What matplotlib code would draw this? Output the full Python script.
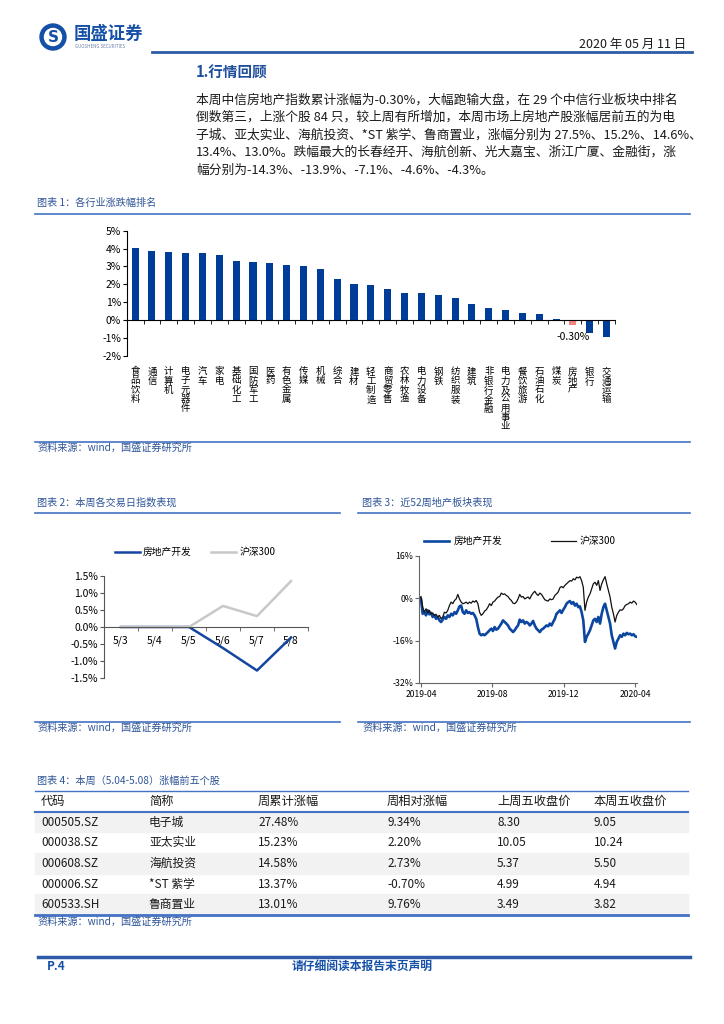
import numpy as np
import matplotlib
matplotlib.use("Agg")
import matplotlib.pyplot as plt
from matplotlib.lines import Line2D
from matplotlib.patches import Circle, Rectangle

plt.rcParams['font.family'] = ['Noto Sans CJK SC', 'DejaVu Sans']
plt.rcParams['axes.unicode_minus'] = False

W, H = 724, 1024
BLUE = "#003D99"
PINK = "#F4827F"
TITLE_BLUE = "#2F5597"
RULE = "#4472C4"
TEXT = "#1a1a1a"

# ---- chart 1: industry weekly change (%) ----
industries = ["食品饮料", "通信", "计算机", "电子元器件", "汽车", "家电", "基础化工", "国防军工",
              "医药", "有色金属", "传媒", "机械", "综合", "建材", "轻工制造", "商贸零售",
              "农林牧渔", "电力设备", "钢铁", "纺织服装", "建筑", "非银行金融", "电力及公用事业",
              "餐饮旅游", "石油石化", "煤炭", "房地产", "银行", "交通运输"]
industry_chg = [4.01, 3.86, 3.79, 3.73, 3.73, 3.62, 3.32, 3.26, 3.17, 3.06, 3.00, 2.85,
                2.29, 2.03, 1.98, 1.72, 1.53, 1.53, 1.38, 1.21, 0.91, 0.65, 0.54, 0.39,
                0.35, 0.06, -0.30, -0.71, -0.97]

# ---- chart 2: daily index performance (%) ----
days = ["5/3", "5/4", "5/5", "5/6", "5/7", "5/8"]
re_day = [0.0, 0.0, 0.0, -0.62, -1.28, -0.31]
hs300_day = [0.0, 0.0, 0.0, 0.62, 0.32, 1.35]

# ---- chart 3: 52-week performance (%) ----
week_labels = ["2019-04", "2019-08", "2019-12", "2020-04"]
hs300_52w = [0.0, 0.6, -3.4, -5.3, -4.0, -5.6, -4.6, -5.9, -5.6, -6.5, -6.1, -7.1, -6.5, -7.8,
             -7.1, -5.3, -5.6, -4.6, -2.8, -1.5, -2.1, -0.9, -0.3, 1.4, -0.3, -1.5, -2.1, -1.9,
             -1.5, -2.1, -1.5, -1.9, -1.1, -1.5, -0.9, -2.1, -5.3, -6.5, -5.9, -4.9, -4.4, -3.4,
             -2.1, -2.8, -1.5, -1.1, -0.3, 0.4, 0.6, 1.9, 1.4, 1.6, 1.0, 0.6, -0.3, -0.9, -1.9,
             -2.1, -1.5, -0.3, 1.4, 0.4, 0.6, -0.3, 0.1, 0.4, -0.3, 1.0, 1.9, 2.6, 1.6, 1.0, 1.9,
             1.4, 0.4, -0.6, -0.9, -1.1, -0.3, -0.6, -0.3, 1.0, 1.6, 2.3, 3.9, 4.4, 3.9, 4.8, 5.4,
             6.0, 6.6, 6.4, 7.3, 6.9, 7.9, 7.6, 8.1, 6.6, 4.1, -4.6, -1.5, 0.4, 1.6, 3.5, 5.4, 6.0,
             4.8, 6.6, 2.9, 5.4, 6.9, 8.1, 5.4, 2.9, 0.4, -3.4, -5.9, -9.0, -6.5, -5.3, -4.4, -4.6,
             -4.0, -2.8, -2.4, -2.1, -1.5, -1.9, -1.1, -1.5, -2.4]
re_52w = [0.0, -0.3, -5.9, -5.3, -6.5, -4.6, -6.1, -5.6, -7.1, -6.5, -7.8, -7.1, -8.4, -9.0,
          -8.1, -7.1, -7.8, -6.5, -7.1, -5.9, -6.5, -5.3, -5.9, -4.6, -3.1, -2.8, -5.3, -5.9,
          -4.6, -5.6, -5.3, -5.9, -5.6, -6.5, -7.8, -10.9, -13.4, -14.0, -13.6, -14.0, -13.4,
          -12.8, -12.1, -11.5, -12.4, -10.9, -11.9, -11.5, -10.6, -9.6, -8.4, -9.0, -9.6, -10.3,
          -11.5, -12.1, -12.8, -12.1, -11.1, -10.3, -8.1, -9.0, -8.4, -9.6, -9.0, -9.4, -10.3,
          -9.6, -8.6, -10.3, -11.5, -12.1, -12.8, -11.9, -11.5, -10.9, -10.3, -10.6, -9.6, -10.3,
          -9.0, -7.8, -5.9, -5.3, -4.6, -5.6, -4.4, -3.4, -2.1, -1.5, -1.1, -2.1, -1.5, -2.8,
          -2.1, -3.4, -3.1, -5.3, -8.4, -16.5, -14.6, -13.4, -12.1, -10.3, -8.4, -7.8, -9.0,
          -7.1, -9.6, -5.9, -3.4, -2.1, -4.6, -7.1, -9.6, -14.0, -16.5, -19.0, -16.5, -15.3,
          -14.0, -14.6, -13.4, -14.0, -13.1, -13.6, -13.4, -14.0, -13.6, -14.4, -14.6]

# ---- table 4 ----
tbl_header = ["代码", "简称", "周累计涨幅", "周相对涨幅", "上周五收盘价", "本周五收盘价"]
codes = ["000505.SZ", "000038.SZ", "000608.SZ", "000006.SZ", "600533.SH"]
names = ["电子城", "亚太实业", "海航投资", "*ST 紫学", "鲁商置业"]
week_chg = ["27.48%", "15.23%", "14.58%", "13.37%", "13.01%"]
rel_chg = ["9.34%", "2.20%", "2.73%", "-0.70%", "9.76%"]
last_close = ["8.30", "10.05", "5.37", "4.99", "3.49"]
this_close = ["9.05", "10.24", "5.50", "4.94", "3.82"]

paragraph = [
    "本周中信房地产指数累计涨幅为-0.30%，大幅跑输大盘，在 29 个中信行业板块中排名",
    "倒数第三，上涨个股 84 只，较上周有所增加，本周市场上房地产股涨幅居前五的为电",
    "子城、亚太实业、海航投资、*ST 紫学、鲁商置业，涨幅分别为 27.5%、15.2%、14.6%、",
    "13.4%、13.0%。跌幅最大的长春经开、海航创新、光大嘉宝、浙江广厦、金融街，涨",
    "幅分别为-14.3%、-13.9%、-7.1%、-4.6%、-4.3%。",
]

fig = plt.figure(figsize=(W / 100, H / 100), dpi=100)


def fx(x):
    return x / W


def fy(y):
    return 1 - y / H


def text(x, y, s, **kw):
    kw.setdefault("va", "center")
    fig.text(fx(x), fy(y), s, **kw)


def rule(x0, x1, y, lw=1.0, color=RULE):
    fig.add_artist(Line2D([fx(x0), fx(x1)], [fy(y), fy(y)], color=color, lw=lw))


def axes_px(x0, y0, x1, y1):
    ax = fig.add_axes([fx(x0), fy(y1), (x1 - x0) / W, (y1 - y0) / H])
    ax.patch.set_alpha(0)
    return ax


# ---- page header ----
fig.add_artist(Circle((0.53, (H - 37) / 100), 0.13, transform=fig.dpi_scale_trans, color="#1550A8"))
fig.add_artist(Circle((0.53, (H - 37) / 100), 0.085, transform=fig.dpi_scale_trans, color="white"))
text(53, 37, "S", color="#1550A8", fontsize=11, fontweight="bold", ha="center", family="DejaVu Sans")
text(74, 34, "国盛证券", color="#1550A8", fontsize=12.5, fontweight="bold", ha="left")
text(75, 46.5, "GUOSHENG SECURITIES", color="#6a7fa8", fontsize=3.2, ha="left")
text(686, 44, "2020 年 05 月 11 日", color=TEXT, fontsize=9, ha="right")
rule(152, 692, 52, lw=2.0, color="#2E5BA8")

# ---- section text ----
text(196, 73, "1.行情回顾", color="#1F4E9A", fontsize=10.5, fontweight="bold", ha="left")
for i, line in enumerate(paragraph):
    text(196, 100 + i * 17.5, line, color=TEXT, fontsize=9.2, ha="left")

# ---- chart 1 ----
text(37, 203, "图表 1：各行业涨跌幅排名", color=TITLE_BLUE, fontsize=7.3, ha="left", style="italic")
rule(35, 690, 214, lw=1.2)
ax1 = axes_px(126.7, 230.7, 615, 355.7)
xi = np.arange(len(industries))
bar_colors = [PINK if n == "房地产" else BLUE for n in industries]
ax1.bar(xi, industry_chg, width=0.42, color=bar_colors)
ax1.set_xlim(-0.5, len(industries) - 0.5)
ax1.set_ylim(-2, 5)
ax1.set_yticks(np.arange(-2, 6))
ax1.yaxis.set_major_formatter(lambda v, p: f"{v:.0f}%")
ax1.spines[["top", "right"]].set_visible(False)
ax1.spines["bottom"].set_position(("data", 0))
ax1.set_xticks(xi)
ax1.set_xticklabels(["\n".join(n) for n in industries], fontsize=6.8, linespacing=1.02)
ax1.set_xticks(np.arange(-0.5, len(industries)), minor=True)
ax1.tick_params(axis="x", which="major", length=0, pad=34)
ax1.tick_params(axis="x", which="minor", length=3, direction="out")
ax1.tick_params(axis="y", length=3, labelsize=7.5, pad=1)
k = industries.index("房地产")
ax1.annotate(f"{industry_chg[k]:.2f}%", (k, industry_chg[k]), xytext=(0, -5),
             textcoords="offset points", ha="center", va="top", fontsize=7.5)
rule(35, 690, 442, lw=1.2)
text(37, 448, "资料来源：wind，国盛证券研究所", color=TITLE_BLUE, fontsize=7.3, ha="left", style="italic")

# ---- chart 2 ----
text(37, 503, "图表 2：本周各交易日指数表现", color=TITLE_BLUE, fontsize=7.3, ha="left", style="italic")
rule(35, 340, 513, lw=1.2)
ax2 = axes_px(104, 576, 308, 678)
di = np.arange(len(days))
h_re, = ax2.plot(di, re_day, color="#1446A0", lw=1.8, label="房地产开发")
h_hs, = ax2.plot(di, hs300_day, color="#C8C8C8", lw=1.8, label="沪深300")
ax2.set_xlim(-0.5, len(days) - 0.5)
ax2.set_ylim(-1.5, 1.5)
ax2.set_yticks(np.arange(-1.5, 1.51, 0.5))
ax2.yaxis.set_major_formatter(lambda v, p: f"{v:.1f}%")
ax2.spines[["top", "right"]].set_visible(False)
ax2.spines["bottom"].set_position(("data", 0))
ax2.spines["bottom"].set_color("#555555")
ax2.spines["left"].set_color("#555555")
ax2.set_xticks(di)
ax2.set_xticklabels(days, fontsize=7.5)
ax2.set_xticks(np.arange(-0.5, len(days)), minor=True)
ax2.tick_params(axis="x", which="major", length=0, pad=6)
ax2.tick_params(axis="x", which="minor", length=3, color="#555555")
ax2.tick_params(axis="y", length=3, labelsize=7.5, pad=1, color="#555555")
fig.legend(handles=[h_re, h_hs], loc="center", bbox_to_anchor=(fx(195), fy(552)), ncol=2,
           frameon=False, fontsize=7, handlelength=2.6, handletextpad=0.3, columnspacing=2.0)
rule(35, 340, 722, lw=1.2)
text(37, 728, "资料来源：wind，国盛证券研究所", color=TITLE_BLUE, fontsize=7.3, ha="left", style="italic")

# ---- chart 3 ----
text(362, 503, "图表 3：近52周地产板块表现", color=TITLE_BLUE, fontsize=7.3, ha="left", style="italic")
rule(358, 690, 513, lw=1.2)
ax3 = axes_px(419, 555.7, 637, 683)
g_re, = ax3.plot(np.arange(len(re_52w)), re_52w, color="#0B47A1", lw=1.9, label="房地产开发")
g_hs, = ax3.plot(np.arange(len(hs300_52w)), hs300_52w, color="#111111", lw=0.9, label="沪深300")
ax3.set_xlim(-0.2, 130.1)
ax3.set_ylim(-32, 16)
ax3.set_yticks([-32, -16, 0, 16])
ax3.yaxis.set_major_formatter(lambda v, p: f"{v:.0f}%")
ax3.set_xticks([1, 43.6, 86.4, 129])
ax3.set_xticklabels(week_labels, fontsize=6.2)
ax3.spines[["top", "right"]].set_visible(False)
for s in ("left", "bottom"):
    ax3.spines[s].set_color("#666666")
ax3.tick_params(axis="y", length=3, labelsize=6.3, pad=1, color="#666666")
ax3.tick_params(axis="x", length=3, pad=2, color="#666666")
fig.legend(handles=[g_re, g_hs], loc="center", bbox_to_anchor=(fx(520), fy(541)), ncol=2,
           frameon=False, fontsize=7, handlelength=2.6, handletextpad=0.4, columnspacing=5.0)
rule(358, 690, 722, lw=1.2)
text(362, 728, "资料来源：wind，国盛证券研究所", color=TITLE_BLUE, fontsize=7.3, ha="left", style="italic")

# ---- table 4 ----
text(37, 781, "图表 4：本周（5.04-5.08）涨幅前五个股", color=TITLE_BLUE, fontsize=7.3, ha="left", style="italic")
col_x = [41, 149, 258, 387, 497, 594]
row_top, header_h, row_h = 791, 20.7, 20.66
rows = list(zip(codes, names, week_chg, rel_chg, last_close, this_close))
for r, row in enumerate(rows):
    y0 = row_top + header_h + r * row_h
    if r % 2 == 0:
        fig.add_artist(Rectangle((fx(35), fy(y0 + row_h)), (688 - 35) / W, row_h / H,
                                 transform=fig.transFigure, color="#F2F2F2", zorder=0))
    for cx, val in zip(col_x, row):
        text(cx, y0 + row_h / 2, val, color=TEXT, fontsize=8.5, ha="left")
for cx, val in zip(col_x, tbl_header):
    text(cx, row_top + header_h / 2, val, color=TEXT, fontsize=8.8, ha="left")
rule(35, 688, row_top, lw=1.0)
rule(35, 688, row_top + header_h, lw=1.5)
rule(35, 688, row_top + header_h + len(rows) * row_h, lw=2.0)
text(37, 922, "资料来源：wind，国盛证券研究所", color=TITLE_BLUE, fontsize=7.3, ha="left", style="italic")

# ---- footer ----
rule(38, 690, 957, lw=2.5, color="#2E5BA8")
text(47, 966, "P.4", color="#1550A8", fontsize=8.5, fontweight="bold", ha="left", style="italic")
text(362, 966, "请仔细阅读本报告末页声明", color="#1550A8", fontsize=8.5, fontweight="bold",
     ha="center", style="italic")

fig.savefig("out.png", dpi=100)
